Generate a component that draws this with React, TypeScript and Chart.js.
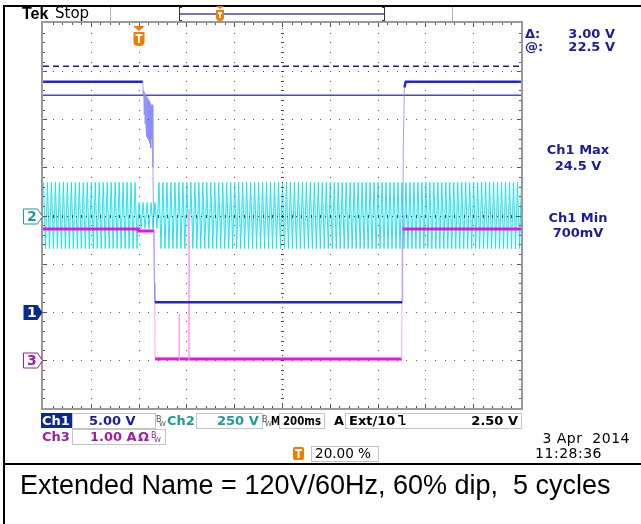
import React, { useEffect, useRef } from "react";
import { Chart, registerables } from "chart.js";
Chart.register(...registerables);

const W = 641;
const H = 524;

// ---- acquisition settings ----
const timeRange = [-0.4, 1.6]; // s, 200 ms/div, trigger at 20 %
const ch1VoltsPerDiv = 5;
const ch1OffsetDiv = -2;
const ch2VoltsPerDiv = 250;
const ch2OffsetDiv = 0;
const ch3AmpsPerDiv = 1;
const ch3OffsetDiv = -3;

// ---- Ch1: DC output (V) ----
const ch1Time = [
  -0.4, 0.018, 0.019, 0.021, 0.023, 0.025, 0.027, 0.029, 0.031, 0.033, 0.035, 0.037, 0.039,
  0.041, 0.043, 0.045, 0.047, 0.049, 0.051, 0.053, 0.055, 0.057, 0.06, 0.063, 0.066, 0.068,
  1.103, 1.105, 1.108, 1.112, 1.118, 1.6,
];
const ch1Volts = [
  23.9, 23.9, 22.6, 23.0, 20.5, 22.8, 19.5, 22.5, 19.0, 22.4, 18.2, 22.2, 18.0,
  22.0, 17.8, 21.8, 17.5, 21.6, 17.0, 21.4, 18.0, 21.5, 15.0, 8.0, 3.0, 1.0,
  1.0, 8.0, 18.0, 23.3, 23.9, 23.9,
];

// ---- Ch2: AC line voltage, envelope per segment (V peak) ----
const ch2LineFreq = 60; // Hz
const ch2SegStart = [-0.4, 0.0, 0.083];
const ch2SegEnd = [0.0, 0.083, 1.6];
const ch2SegPeak = [172, 68, 172];

// ---- Ch3: input current (A) ----
const ch3Time = [-0.4, 0.0, 0.001, 0.066, 0.069, 0.169, 0.17, 0.171, 0.21, 0.211, 0.212, 1.101, 1.103, 1.6];
const ch3Amps = [2.72, 2.72, 2.68, 2.68, 0.02, 0.02, 0.96, 0.02, 0.02, 3.1, 0.02, 0.02, 2.72, 2.72];

// ---- cursors (Ch1, V) ----
const cursorVolts = [25.5, 22.5];

// ---- readouts ----
const cursorLabels = ["Δ:", "@:"];
const cursorValues = ["3.00 V", "22.5 V"];
const measLabels = ["Ch1 Max", "Ch1 Min"];
const measValues = ["24.5 V", "700mV"];
const caption = "Extended Name = 120V/60Hz, 60% dip,  5 cycles";

const FONT = "'DejaVu Sans', sans-serif";
const NAVY = "#1b1b9c";
const TEAL = "#1f9a9a";
const PURPLE = "#a01ca0";
const ORANGE = "#f27a00";

function buildCh2() {
  const pts: { x: number; y: number }[] = [];
  const n = Math.round((timeRange[1] - timeRange[0]) * ch2LineFreq * 2);
  for (let k = 0; k <= n; k++) {
    const t = timeRange[0] + k / (ch2LineFreq * 2) + 0.002;
    let seg = 0;
    for (let s = 0; s < ch2SegStart.length; s++) if (t >= ch2SegStart[s] && t < ch2SegEnd[s]) seg = s;
    const v = (k % 2 === 0 ? 1 : -1) * ch2SegPeak[seg];
    pts.push({ x: t, y: v / ch2VoltsPerDiv + ch2OffsetDiv });
  }
  return pts;
}

function isSteep(c: any) {
  return Math.abs(c.p1.y - c.p0.y) > 3 * Math.abs(c.p1.x - c.p0.x) + 2;
}
function steep(light: string, width: number) {
  return {
    borderColor: (c: any) => (isSteep(c) ? light : undefined),
    borderWidth: (c: any) => (isSteep(c) ? 1 : width),
  };
}

function shieldT(ctx: CanvasRenderingContext2D, cx: number, top: number, w: number, h: number, tri: boolean) {
  ctx.save();
  ctx.fillStyle = ORANGE;
  if (tri) {
    ctx.beginPath();
    ctx.moveTo(cx - 6, top - 6);
    ctx.lineTo(cx + 6, top - 6);
    ctx.lineTo(cx, top - 1);
    ctx.closePath();
    ctx.fill();
  }
  ctx.beginPath();
  ctx.moveTo(cx - w / 2, top);
  ctx.lineTo(cx + w / 2, top);
  ctx.lineTo(cx + w / 2, top + h - 4);
  ctx.quadraticCurveTo(cx + w / 2, top + h, cx, top + h);
  ctx.quadraticCurveTo(cx - w / 2, top + h, cx - w / 2, top + h - 4);
  ctx.closePath();
  ctx.fill();
  ctx.fillStyle = "#fff";
  ctx.fillRect(cx - w / 2 + 2, top + 2, w - 4, 2);
  ctx.fillRect(cx - 1, top + 2, 2, h - 5);
  ctx.restore();
}

function bw(ctx: CanvasRenderingContext2D, x: number, y: number, color: string) {
  ctx.save();
  ctx.fillStyle = color;
  ctx.font = `8px ${FONT}`;
  ctx.fillText("B", x, y - 4);
  ctx.font = `7px ${FONT}`;
  ctx.fillText("W", x + 3, y);
  ctx.restore();
}

function marker(ctx: CanvasRenderingContext2D, y: number, label: string, color: string, filled: boolean) {
  ctx.save();
  ctx.beginPath();
  ctx.moveTo(23.5, y - 7.5);
  ctx.lineTo(37.5, y - 7.5);
  ctx.lineTo(42.5, y);
  ctx.lineTo(37.5, y + 7.5);
  ctx.lineTo(23.5, y + 7.5);
  ctx.closePath();
  if (filled) {
    ctx.fillStyle = color;
    ctx.fill();
  } else {
    ctx.fillStyle = "#fff";
    ctx.fill();
    ctx.strokeStyle = color;
    ctx.lineWidth = 1;
    ctx.stroke();
  }
  ctx.fillStyle = filled ? "#fff" : color;
  ctx.font = `bold 14px ${FONT}`;
  ctx.textBaseline = "middle";
  ctx.fillText(label, 27, y + 1);
  ctx.restore();
}

const scopePlugin = {
  id: "scope",
  beforeDatasetsDraw(chart: any) {
    const ctx: CanvasRenderingContext2D = chart.ctx;
    ctx.save();
    ctx.fillStyle = "#fff";
    ctx.fillRect(0, 0, W, H);

    // outer black borders
    ctx.fillStyle = "#000";
    ctx.fillRect(4, 5, W - 4, 2);
    ctx.fillRect(3, 5, 2, H - 5);
    ctx.fillRect(4, 463, W - 4, 2);

    // top bar
    ctx.fillStyle = "#000";
    ctx.font = `bold 16px 'Liberation Sans', sans-serif`;
    ctx.fillText("Tek", 22, 19);
    ctx.font = `15px ${FONT}`;
    ctx.fillText("Stop", 55, 18);
    ctx.fillStyle = "#b4b4b4";
    ctx.fillRect(110, 7, 1, 15);
    ctx.fillRect(452, 7, 1, 14);
    ctx.fillStyle = "#333";
    ctx.fillRect(179, 7, 1, 14);
    ctx.fillRect(179, 7, 3, 1);
    ctx.fillRect(179, 20, 3, 1);
    ctx.fillRect(384, 7, 1, 14);
    ctx.fillRect(382, 7, 3, 1);
    ctx.fillRect(382, 20, 3, 1);
    ctx.fillStyle = "#7474c8";
    ctx.fillRect(180, 13, 204, 2);
    shieldT(ctx, 220, 10, 8, 11, false);
    ctx.fillStyle = ORANGE;
    ctx.beginPath();
    ctx.moveTo(216, 6);
    ctx.lineTo(224, 6);
    ctx.lineTo(220, 9);
    ctx.fill();

    // right readouts
    ctx.fillStyle = NAVY;
    ctx.font = `bold 13px ${FONT}`;
    ctx.textAlign = "left";
    ctx.fillText(cursorLabels[0], 525, 38);
    ctx.fillText(cursorLabels[1], 525, 51);
    ctx.textAlign = "right";
    ctx.fillText(cursorValues[0], 615, 38);
    ctx.fillText(cursorValues[1], 615, 51);
    ctx.textAlign = "center";
    ctx.fillText(measLabels[0], 578, 154);
    ctx.fillText(measValues[0], 578, 170);
    ctx.fillText(measLabels[1], 578, 222);
    ctx.fillText(measValues[1], 578, 237);
    ctx.textAlign = "left";

    // status bar row 1
    ctx.strokeStyle = "#c4c4c4";
    ctx.lineWidth = 1;
    ctx.fillStyle = "#0b2a8f";
    ctx.fillRect(41, 413, 31, 15);
    ctx.fillStyle = "#fff";
    ctx.font = `bold 13px ${FONT}`;
    ctx.fillText("Ch1", 42, 425, 29);
    ctx.strokeRect(72.5, 413.5, 83, 15);
    ctx.fillStyle = NAVY;
    ctx.fillText("5.00 V", 89, 425, 49);
    bw(ctx, 156, 426, "#555");
    ctx.fillStyle = TEAL;
    ctx.fillText("Ch2", 167, 425, 29);
    ctx.strokeRect(196.5, 413.5, 66, 15);
    ctx.fillText("250 V", 217, 425, 43);
    bw(ctx, 262, 426, "#555");
    ctx.fillStyle = "#000";
    ctx.fillText("M", 271, 425, 9);
    ctx.strokeRect(279.5, 413.5, 45, 15);
    ctx.fillText("200ms", 283, 425, 38);
    ctx.fillText("A", 334, 425, 10);
    ctx.strokeRect(345.5, 413.5, 176, 15);
    ctx.fillText("Ext/10", 349, 425, 48);
    ctx.fillRect(398, 415, 5, 1.5);
    ctx.fillRect(401.5, 415, 1.5, 10);
    ctx.fillRect(401.5, 423.5, 4, 1.5);
    ctx.textAlign = "right";
    ctx.fillText("2.50 V", 518, 425, 48);
    ctx.textAlign = "left";

    // status row 2
    ctx.fillStyle = PURPLE;
    ctx.fillText("Ch3", 42, 441, 29);
    ctx.strokeRect(72.5, 429.5, 93, 15);
    ctx.fillText("1.00 A", 90, 441, 47);
    ctx.fillText("Ω", 138, 441, 12);
    bw(ctx, 151, 442, PURPLE);

    // trigger position box
    ctx.fillStyle = ORANGE;
    ctx.beginPath();
    ctx.roundRect(293, 447, 11, 13, 2);
    ctx.fill();
    ctx.fillStyle = "#fff";
    ctx.fillRect(295, 449, 7, 2);
    ctx.fillRect(297.5, 449, 2, 9);
    ctx.strokeRect(311.5, 446.5, 67, 15);
    ctx.fillStyle = "#000";
    ctx.font = `14px ${FONT}`;
    ctx.fillText("20.00 %", 315, 458, 56);
    ctx.textAlign = "right";
    (ctx as any).letterSpacing = "0.5px";
    ctx.fillText("3 Apr  2014", 630, 443);
    ctx.fillText("11:28:36", 602, 458);
    (ctx as any).letterSpacing = "0px";
    ctx.textAlign = "left";

    // caption
    ctx.font = `27px 'Liberation Sans', Arial, sans-serif`;
    ctx.fillStyle = "#000";
    ctx.fillText(caption, 20, 494);
    ctx.restore();
  },
  afterDatasetsDraw(chart: any) {
    const ctx: CanvasRenderingContext2D = chart.ctx;
    const { left, right, top, bottom } = chart.chartArea;
    const dx = (right - left) / 10;
    const dy = (bottom - top) / 8;
    ctx.save();
    // graticule dots
    ctx.fillStyle = "#555";
    for (let i = 1; i < 10; i++) {
      if (i === 5) continue;
      const x = Math.round(left + i * dx);
      for (let j = 1; j < 40; j++) ctx.fillRect(x, Math.round(top + (j * dy) / 5), 1, 1);
    }
    for (let j = 1; j < 8; j++) {
      if (j === 4) continue;
      const y = Math.round(top + j * dy);
      for (let i = 1; i < 50; i++) ctx.fillRect(Math.round(left + (i * dx) / 5), y, 1, 1);
    }
    // center lines
    const cx = Math.round(left + 5 * dx);
    const cy = Math.round(top + 4 * dy);
    ctx.fillStyle = "#444";
    for (let i = 0; i < 100; i++) ctx.fillRect(Math.round(left + (i * dx) / 10), cy, 1, 1);
    for (let j = 0; j < 80; j++) ctx.fillRect(cx, Math.round(top + (j * dy) / 10), 1, 1);
    for (let i = 1; i < 50; i++) ctx.fillRect(Math.round(left + (i * dx) / 5), cy - 1, 1, 3);
    for (let j = 1; j < 40; j++) ctx.fillRect(cx - 1, Math.round(top + (j * dy) / 5), 3, 1);

    // frame
    ctx.strokeStyle = "#9a9a9a";
    ctx.lineWidth = 2;
    ctx.strokeRect(left - 1, top - 1, right - left + 2, bottom - top + 2);
    ctx.fillStyle = "#555";
    for (let i = 1; i < 50; i++) {
      const x = Math.round(left + (i * dx) / 5);
      const len = i % 5 === 0 ? 4 : 2;
      ctx.fillRect(x, top, 1, len);
      ctx.fillRect(x, bottom - len, 1, len);
    }
    for (let j = 1; j < 40; j++) {
      const y = Math.round(top + (j * dy) / 5);
      const len = j % 5 === 0 ? 4 : 2;
      ctx.fillRect(left, y, len, 1);
      ctx.fillRect(right - len, y, len, 1);
    }
    ctx.restore();

    const ys = chart.scales.y;
    const xs = chart.scales.x;
    marker(ctx, Math.round(ys.getPixelForValue(ch2OffsetDiv)) + 0.5, "2", TEAL, false);
    marker(ctx, Math.round(ys.getPixelForValue(ch1OffsetDiv)) + 0.5, "1", "#0b2a8f", true);
    marker(ctx, Math.round(ys.getPixelForValue(ch3OffsetDiv)) + 0.5, "3", PURPLE, false);
    shieldT(ctx, Math.round(xs.getPixelForValue(0)), 32, 11, 14, true);
  },
};

export default function App() {
  const ref = useRef<HTMLCanvasElement>(null);
  useEffect(() => {
    const ch1 = ch1Time.map((t, i) => ({ x: t, y: ch1Volts[i] / ch1VoltsPerDiv + ch1OffsetDiv }));
    const ch3 = ch3Time.map((t, i) => ({ x: t, y: ch3Amps[i] / ch3AmpsPerDiv + ch3OffsetDiv }));
    const cur = cursorVolts.map((v) => [
      { x: timeRange[0], y: v / ch1VoltsPerDiv + ch1OffsetDiv },
      { x: timeRange[1], y: v / ch1VoltsPerDiv + ch1OffsetDiv },
    ]);
    // Chart.js paints the first dataset on top
    const chart = new Chart(ref.current!, {
      type: "line",
      data: {
        datasets: [
          { data: ch1, borderColor: "#2323d8", borderWidth: 2.5, pointRadius: 0, segment: steep("rgba(140,140,255,0.8)", 2.5) as any },
          { data: ch3, borderColor: "#e614e6", borderWidth: 3, pointRadius: 0, segment: steep("#ffa8ff", 3) as any },
          { data: cur[0], borderColor: "#1a1a90", borderWidth: 1.5, borderDash: [6, 4], pointRadius: 0 },
          { data: cur[1], borderColor: "#4c4cae", borderWidth: 1.5, pointRadius: 0 },
          {
            data: buildCh2(),
            borderColor: "rgba(20,225,232,0.9)",
            backgroundColor: "rgba(140,240,244,0.45)",
            fill: { value: ch2OffsetDiv },
            borderWidth: 1,
            pointRadius: 0,
          },
        ] as any,
      },
      options: {
        responsive: false,
        animation: false,
        devicePixelRatio: 1,
        events: [],
        layout: { padding: { left: 43, top: 23, right: 120, bottom: 116 } },
        plugins: { legend: { display: false }, tooltip: { enabled: false } },
        scales: {
          x: { type: "linear", min: timeRange[0], max: timeRange[1], display: false },
          y: { type: "linear", min: -4, max: 4, display: false },
        },
      },
      plugins: [scopePlugin],
    });
    return () => chart.destroy();
  }, []);
  return (
    <div style={{ position: "fixed", left: 0, top: 0, width: W, height: H, background: "#fff" }}>
      <canvas ref={ref} width={W} height={H} style={{ width: W, height: H, display: "block" }} />
    </div>
  );
}
